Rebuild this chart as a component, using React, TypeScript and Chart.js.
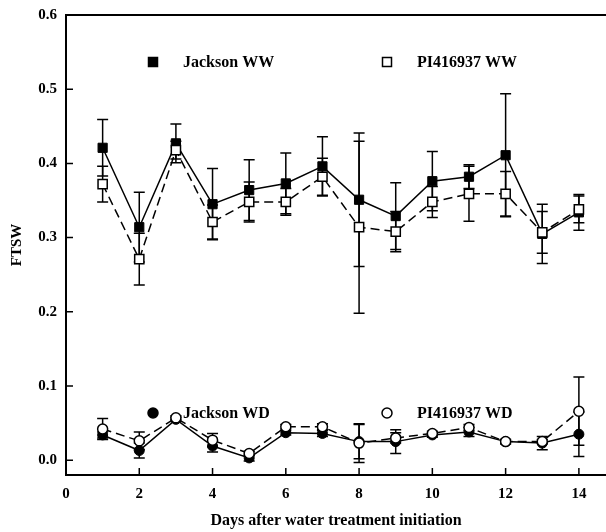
import React, { useEffect, useRef } from 'react';
import { Chart, registerables } from 'chart.js';

Chart.register(...registerables);

const days = [1, 2, 3, 4, 5, 6, 7, 8, 9, 10, 11, 12, 13, 14];

const jacksonWW = [0.421, 0.314, 0.427, 0.345, 0.364, 0.373, 0.396, 0.351, 0.329, 0.376, 0.382, 0.411, 0.305, 0.334];
const jacksonWWErr = [0.038, 0.047, 0.026, 0.048, 0.041, 0.041, 0.040, 0.090, 0.045, 0.040, 0.016, 0.083, 0.040, 0.024];
const piWW = [0.372, 0.271, 0.418, 0.321, 0.348, 0.348, 0.382, 0.314, 0.308, 0.348, 0.359, 0.359, 0.307, 0.338];
const piWWErr = [0.024, 0.035, 0.012, 0.023, 0.027, 0.018, 0.025, 0.116, 0.027, 0.021, 0.037, 0.030, 0.028, 0.018];

const jacksonWD = [0.034, 0.013, 0.055, 0.019, 0.003, 0.037, 0.036, 0.025, 0.025, 0.034, 0.038, 0.025, 0.023, 0.035];
const jacksonWDErr = [0.004, 0.010, 0.003, 0.008, 0.004, 0.003, 0.004, 0.023, 0.016, 0.003, 0.006, 0.003, 0.009, 0.030];
const piWD = [0.042, 0.026, 0.057, 0.027, 0.009, 0.045, 0.045, 0.023, 0.030, 0.036, 0.044, 0.025, 0.025, 0.066];
const piWDErr = [0.014, 0.012, 0.003, 0.009, 0.003, 0.003, 0.004, 0.026, 0.007, 0.003, 0.004, 0.003, 0.003, 0.046];

const xTicks = [0, 2, 4, 6, 8, 10, 12, 14];
const yTicks = [0.0, 0.1, 0.2, 0.3, 0.4, 0.5, 0.6];

const labels = ['Jackson WW', 'PI416937 WW', 'Jackson WD', 'PI416937 WD'];
const xTitle = 'Days after water treatment initiation';
const yTitle = 'FTSW';

const FONT = "'Liberation Serif', 'Times New Roman', serif";

const errorBarPlugin = {
  id: 'errorBars',
  beforeDatasetsDraw(chart: any) {
    const ctx = chart.ctx;
    const ys = chart.scales.y;
    const xs = chart.scales.x;
    ctx.save();
    ctx.strokeStyle = '#000';
    ctx.lineWidth = 1.5;
    chart.data.datasets.forEach((ds: any) => {
      const errs = ds.errors as number[];
      if (!errs) return;
      ds.data.forEach((p: any, i: number) => {
        const e = errs[i];
        if (!e) return;
        const x = xs.getPixelForValue(p.x);
        const yTop = ys.getPixelForValue(p.y + e);
        const yBot = ys.getPixelForValue(p.y - e);
        ctx.beginPath();
        ctx.moveTo(x, yTop);
        ctx.lineTo(x, yBot);
        ctx.moveTo(x - 5.5, yTop);
        ctx.lineTo(x + 5.5, yTop);
        ctx.moveTo(x - 5.5, yBot);
        ctx.lineTo(x + 5.5, yBot);
        ctx.stroke();
      });
    });
    ctx.restore();
  },
};

const framePlugin = {
  id: 'frame',
  afterDraw(chart: any) {
    const ctx = chart.ctx;
    const ca = chart.chartArea;
    const xs = chart.scales.x;
    const ys = chart.scales.y;
    ctx.save();
    ctx.strokeStyle = '#000';
    ctx.lineWidth = 2;
    ctx.beginPath();
    ctx.moveTo(ca.right, ca.top);
    ctx.lineTo(ca.left, ca.top);
    ctx.lineTo(ca.left, ca.bottom);
    ctx.lineTo(ca.right, ca.bottom);
    ctx.stroke();
    ctx.lineWidth = 1.5;
    ctx.beginPath();
    yTicks.forEach((v) => {
      const y = ys.getPixelForValue(v);
      ctx.moveTo(ca.left, y);
      ctx.lineTo(ca.left + 7, y);
    });
    xTicks.forEach((v) => {
      const x = xs.getPixelForValue(v);
      ctx.moveTo(x, ca.bottom);
      ctx.lineTo(x, ca.bottom - 7);
    });
    ctx.stroke();

    // legend
    const items = [
      { label: labels[0], shape: 'rect', fill: true, dx: 87, dy: 47 },
      { label: labels[1], shape: 'rect', fill: false, dx: 321, dy: 47 },
      { label: labels[2], shape: 'circle', fill: true, dx: 87, dy: 398 },
      { label: labels[3], shape: 'circle', fill: false, dx: 321, dy: 398 },
    ];
    ctx.font = `bold 16px ${FONT}`;
    ctx.textBaseline = 'middle';
    ctx.textAlign = 'left';
    items.forEach((it) => {
      const x = ca.left + it.dx;
      const y = ca.top + it.dy;
      ctx.beginPath();
      if (it.shape === 'rect') {
        ctx.rect(x - 4.5, y - 4.5, 9, 9);
      } else {
        ctx.arc(x, y, 5, 0, Math.PI * 2);
      }
      ctx.fillStyle = it.fill ? '#000' : '#fff';
      ctx.fill();
      ctx.lineWidth = 1.5;
      ctx.strokeStyle = '#000';
      ctx.stroke();
      ctx.fillStyle = '#000';
      ctx.fillText(it.label, x + 30, y + 1);
    });
    ctx.restore();
  },
};

const toPoints = (vals: number[]) => days.map((d, i) => ({ x: d, y: vals[i] }));

export default function App() {
  const ref = useRef<HTMLCanvasElement | null>(null);
  useEffect(() => {
    if (!ref.current) return;
    const chart = new Chart(ref.current, {
      type: 'line',
      data: {
        datasets: [
          {
            label: labels[0],
            data: toPoints(jacksonWW),
            errors: jacksonWWErr,
            borderColor: '#000',
            backgroundColor: '#000',
            borderWidth: 1.5,
            pointStyle: 'rect',
            pointRadius: 6.5,
            pointBackgroundColor: '#000',
            pointBorderColor: '#000',
            pointBorderWidth: 1,
            order: 2,
          } as any,
          {
            label: labels[1],
            data: toPoints(piWW),
            errors: piWWErr,
            borderColor: '#000',
            backgroundColor: '#fff',
            borderWidth: 1.5,
            borderDash: [9, 5],
            pointStyle: 'rect',
            pointRadius: 6.5,
            pointBackgroundColor: '#fff',
            pointBorderColor: '#000',
            pointBorderWidth: 1.5,
            order: 1,
          } as any,
          {
            label: labels[2],
            data: toPoints(jacksonWD),
            errors: jacksonWDErr,
            borderColor: '#000',
            backgroundColor: '#000',
            borderWidth: 1.5,
            pointStyle: 'circle',
            pointRadius: 5,
            pointBackgroundColor: '#000',
            pointBorderColor: '#000',
            pointBorderWidth: 1,
            order: 2,
          } as any,
          {
            label: labels[3],
            data: toPoints(piWD),
            errors: piWDErr,
            borderColor: '#000',
            backgroundColor: '#fff',
            borderWidth: 1.5,
            borderDash: [9, 5],
            pointStyle: 'circle',
            pointRadius: 5,
            pointBackgroundColor: '#fff',
            pointBorderColor: '#000',
            pointBorderWidth: 1.5,
            order: 1,
          } as any,
        ],
      },
      options: {
        animation: false,
        responsive: true,
        maintainAspectRatio: false,
        layout: { autoPadding: false, padding: { top: 15, right: 0, left: 0, bottom: 0 } },
        plugins: {
          legend: { display: false },
          tooltip: { enabled: false },
        },
        scales: {
          x: {
            type: 'linear',
            min: 0,
            max: 14.74,
            afterBuildTicks: (s: any) => {
              s.ticks = xTicks.map((v) => ({ value: v }));
            },
            afterFit: (s: any) => {
              s.height = 57;
              s.paddingLeft = 0;
              s.paddingRight = 0;
            },
            grid: { display: false, drawTicks: false },
            border: { display: false },
            ticks: {
              color: '#000',
              padding: 10,
              maxRotation: 0,
              font: { family: FONT, size: 15, weight: 'bold' },
              callback: (v: any) => String(v),
            },
            title: {
              display: true,
              text: xTitle,
              color: '#000',
              font: { family: FONT, size: 16, weight: 'bold' },
              padding: { top: 0, bottom: 2 },
            },
          },
          y: {
            type: 'linear',
            min: -0.02,
            max: 0.6,
            afterBuildTicks: (s: any) => {
              s.ticks = yTicks.map((v) => ({ value: v }));
            },
            afterFit: (s: any) => {
              s.width = 66;
              s.paddingTop = 0;
              s.paddingBottom = 0;
            },
            grid: { display: false, drawTicks: false },
            border: { display: false },
            ticks: {
              color: '#000',
              padding: 9,
              font: { family: FONT, size: 15, weight: 'bold' },
              callback: (v: any) => Number(v).toFixed(1),
            },
            title: {
              display: true,
              text: yTitle,
              color: '#000',
              font: { family: FONT, size: 15, weight: 'bold' },
              padding: { top: 8, bottom: 0 },
            },
          },
        },
      } as any,
      plugins: [errorBarPlugin, framePlugin],
    });
    return () => chart.destroy();
  }, []);

  return (
    <div style={{ position: 'absolute', left: 0, top: 0, width: 606, height: 532, background: '#fff' }}>
      <canvas ref={ref} style={{ display: 'block' }} />
    </div>
  );
}
